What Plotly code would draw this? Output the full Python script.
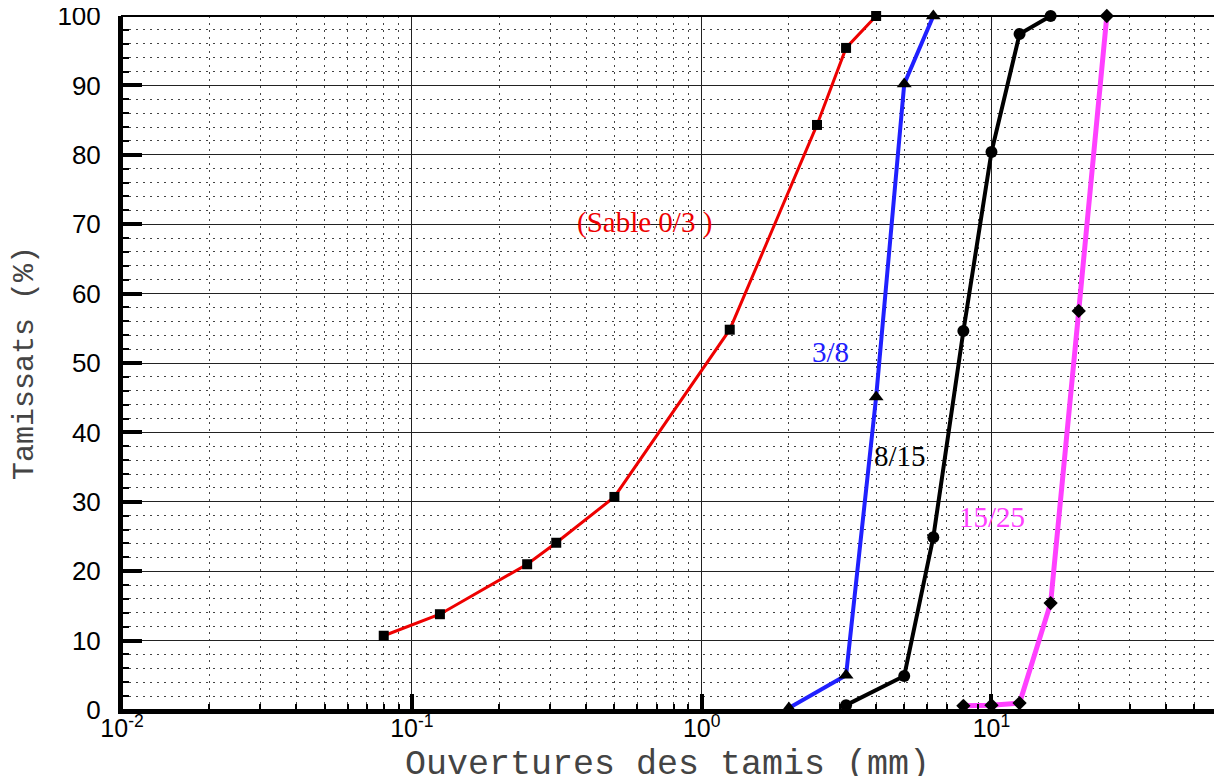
import numpy as np
import plotly.graph_objects as go

# ---- data ----
sable_x = [0.08, 0.125, 0.25, 0.315, 0.5, 1.25, 2.5, 3.15, 4.0]
sable_y = [10.7, 13.8, 21.0, 24.1, 30.7, 54.8, 84.3, 95.4, 100]
g38_x = [2.0, 3.15, 4.0, 5.0, 6.3]
g38_y = [0.3, 5.0, 45.1, 90.2, 100]
g815_x = [3.15, 5.0, 6.3, 8.0, 10.0, 12.5, 16.0]
g815_y = [0.7, 4.9, 24.9, 54.6, 80.4, 97.4, 100]
g1525_x = [8.0, 10.0, 12.5, 16.0, 20.0, 25.0]
g1525_y = [0.6, 0.7, 1.0, 15.4, 57.5, 100]

x_tick_vals = [0.01, 0.1, 1, 10]
x_tick_text = ["10<sup>-2</sup>", "10<sup>-1</sup>", "10<sup>0</sup>", "10<sup>1</sup>"]
x_minor_vals = [m * d for d in (0.01, 0.1, 1, 10) for m in range(2, 10) if m * d <= 60]
y_tick_vals = list(range(0, 101, 10))

fig = go.Figure()

def add_series(xs, ys, color, width, symbol, size):
    fig.add_trace(go.Scatter(
        x=xs, y=ys, mode="lines+markers", cliponaxis=False,
        line=dict(color=color, width=width),
        marker=dict(color="black", symbol=symbol, size=size),
        showlegend=False))

add_series(sable_x, sable_y, "#ee0000", 3, "square", 10)
add_series(g38_x, g38_y, "#2020ff", 4, "triangle-up", 13)
add_series(g815_x, g815_y, "black", 4, "circle", 12)
add_series(g1525_x, g1525_y, "#ff40ff", 5, "diamond", 11)

grid_dash = "2px,5px"

fig.update_xaxes(
    type="log", range=[np.log10(0.01), np.log10(60)], automargin=False,
    tickmode="array", tickvals=x_tick_vals, ticktext=x_tick_text,
    ticks="inside", ticklen=16, tickwidth=4, tickcolor="black",
    showgrid=True, gridcolor="#222", gridwidth=1,
    showline=True, linecolor="black", linewidth=4,
    zeroline=False, ticklabelstandoff=-7, ticklabeloverflow="allow",
    tickfont=dict(family="Liberation Sans, Arial", size=25, color="black"),
    minor=dict(tickmode="array", tickvals=x_minor_vals, ticks="inside",
               ticklen=6, tickwidth=2, tickcolor="black",
               showgrid=True, gridcolor="#444", griddash=grid_dash, gridwidth=1),
)
fig.update_yaxes(
    range=[0, 100], tickmode="array", tickvals=y_tick_vals, automargin=False,
    ticks="inside", ticklen=20, tickwidth=4, tickcolor="black",
    showgrid=True, gridcolor="#222", gridwidth=1,
    showline=True, linecolor="black", linewidth=4,
    zeroline=False, ticklabelstandoff=12, ticklabeloverflow="allow",
    tickfont=dict(family="Liberation Sans, Arial", size=26, color="black"),
    minor=dict(dtick=2, ticks="inside", ticklen=7, tickwidth=2, tickcolor="black",
               showgrid=True, gridcolor="#444", griddash=grid_dash, gridwidth=1),
)

# frame on top / right
fig.add_shape(type="rect", xref="paper", yref="paper", x0=0, y0=0, x1=1, y1=1,
              line=dict(color="black", width=2), layer="above")

serif = "Liberation Serif, Times New Roman, serif"
annots = [
    ("(Sable 0/3 )", -0.197, 70.2, "#ee0000"),
    ("3/8", 0.445, 51.6, "#2020ff"),
    ("8/15", 0.686, 36.6, "black"),
    ("15/25", 1.003, 27.8, "#ff40ff"),
]
for txt, ax_, ay_, col in annots:
    fig.add_annotation(x=ax_, y=ay_, xref="x", yref="y", text=txt, showarrow=False,
                       font=dict(family=serif, size=29, color=col))

mono = "Liberation Mono, Courier New, monospace"
fig.add_annotation(x=0.498, y=0, xref="paper", yref="paper", yanchor="middle",
                   yshift=-55, text="Ouvertures des tamis (mm)", showarrow=False,
                   font=dict(family=mono, size=35, color="#444"))
fig.add_annotation(x=0, y=0.5, xref="paper", yref="paper", xanchor="center",
                   xshift=-97, textangle=-90, text="Tamissats (%)", showarrow=False,
                   font=dict(family=mono, size=30, color="#444"))

# page body has an 8px default margin: compensate so the plot area lands
# at x 122..1217, y 16..710 in the window
fig.update_layout(
    width=1222, height=776,
    margin=dict(l=114, r=13, t=8, b=74),
    plot_bgcolor="white", paper_bgcolor="white",
)

fig.write_html("out.html")
